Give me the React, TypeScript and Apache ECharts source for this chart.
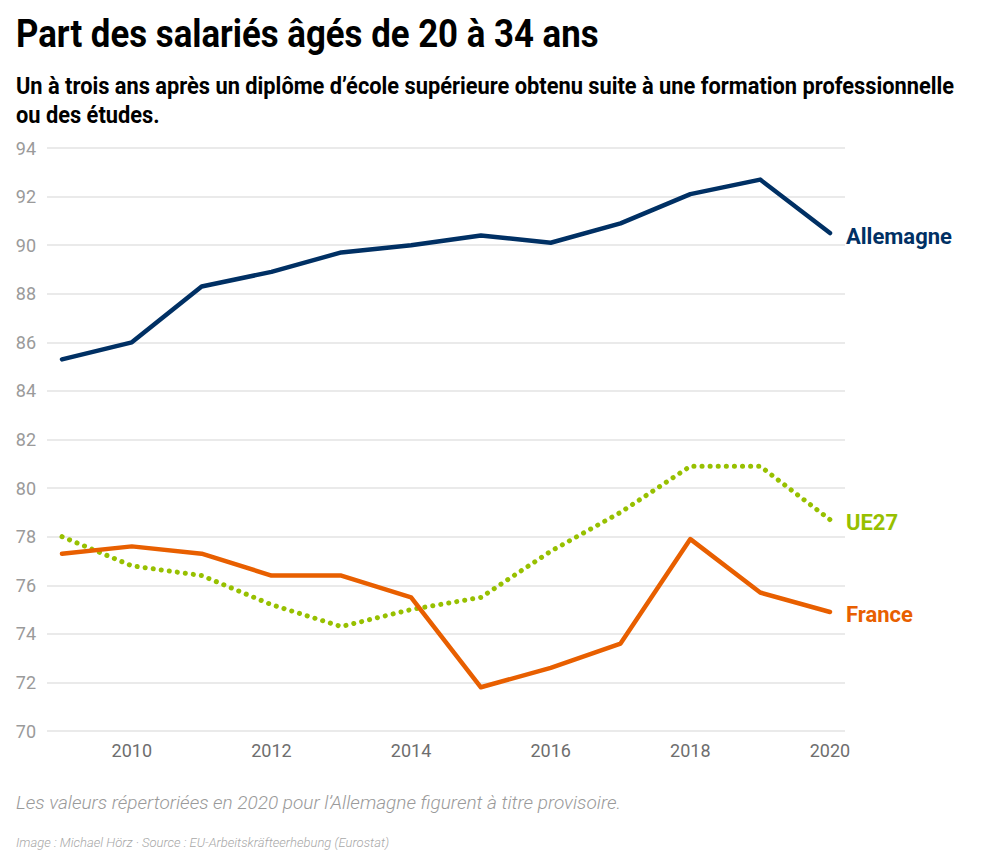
import React, { useEffect, useRef } from "react";
import * as echarts from "echarts";

const years = [2009, 2010, 2011, 2012, 2013, 2014, 2015, 2016, 2017, 2018, 2019, 2020];
const allemagne = [85.3, 86.0, 88.3, 88.9, 89.7, 90.0, 90.4, 90.1, 90.9, 92.1, 92.7, 90.5];
const france = [77.3, 77.6, 77.3, 76.4, 76.4, 75.5, 71.8, 72.6, 73.6, 77.9, 75.7, 74.9];
const ue27 = [78.0, 76.8, 76.4, 75.2, 74.3, 75.0, 75.5, 77.4, 79.0, 80.9, 80.9, 78.7];
const xTickLabels = [2010, 2012, 2014, 2016, 2018, 2020];

const TITLE = "Part des salariés âgés de 20 à 34 ans";
const SUBTITLE_1 =
  "Un à trois ans après un diplôme d’école supérieure obtenu suite à une formation professionnelle";
const SUBTITLE_2 = "ou des études.";
const NOTE = "Les valeurs répertoriées en 2020 pour l’Allemagne figurent à titre provisoire.";
const SOURCE = "Image : Michael Hörz · Source : EU-Arbeitskräfteerhebung (Eurostat)";

const FONT = "Roboto, 'Noto Sans', sans-serif";

export default function App() {
  const ref = useRef<HTMLDivElement>(null);
  useEffect(() => {
    document.body.style.margin = "0";
    const chart = echarts.init(ref.current!, null, { renderer: "svg" });
    const mk = (name: string, vals: number[], color: string, dotted: boolean) => ({
      name,
      type: "line",
      data: years.map((y, i) => [y, vals[i]]),
      symbol: "none",
      lineStyle: dotted
        ? { color, width: 5, type: [0.1, 8], cap: "round" }
        : { color, width: 4.5, cap: "round", join: "round" },
      endLabel: {
        show: true,
        formatter: name,
        color,
        fontFamily: FONT,
        fontWeight: "bold",
        fontSize: 22,
        distance: 16,
        offset: [0, 3],
      },
    });
    chart.setOption({
      animation: false,
      graphic: [
        {
          type: "text",
          x: 16,
          y: 34,
          scaleX: 0.916,
          style: { text: TITLE, fontFamily: FONT, fontWeight: "bold", fontSize: 38, fill: "#000", verticalAlign: "middle" },
        },
        {
          type: "text",
          x: 16,
          y: 86,
          scaleX: 0.909,
          style: { text: SUBTITLE_1, fontFamily: FONT, fontWeight: "bold", fontSize: 24, fill: "#000", verticalAlign: "middle" },
        },
        {
          type: "text",
          x: 16,
          y: 115,
          scaleX: 0.909,
          style: { text: SUBTITLE_2, fontFamily: FONT, fontWeight: "bold", fontSize: 24, fill: "#000", verticalAlign: "middle" },
        },
      ],
      title: [
        {
          text: NOTE,
          left: 11,
          top: 788,
          textStyle: { fontFamily: FONT, fontStyle: "italic", fontWeight: 300, fontSize: 19, color: "#9a9a9a" },
        },
        {
          text: SOURCE,
          left: 11,
          top: 831,
          textStyle: { fontFamily: FONT, fontStyle: "italic", fontWeight: 300, fontSize: 13, color: "#a8a8a8" },
        },
      ],
      grid: { left: 47, right: 138, top: 148, bottom: 130 },
      xAxis: {
        type: "value",
        min: 2008.785,
        max: 2020.215,
        splitLine: { show: false },
        axisLine: { show: false },
        axisTick: { show: false },
        axisLabel: {
          customValues: xTickLabels,
          color: "#6e6e6e",
          fontFamily: FONT,
          fontSize: 18,
          margin: 10,
          formatter: (v: number) => String(v),
        },
      },
      yAxis: {
        type: "value",
        min: 70,
        max: 94,
        interval: 2,
        axisLine: { show: false },
        axisTick: { show: false },
        splitLine: { lineStyle: { color: "#e3e3e3", width: 1.5 } },
        axisLabel: { color: "#9a9a9a", fontFamily: FONT, fontSize: 18, margin: 11 },
      },
      series: [
        mk("UE27", ue27, "#97c000", true),
        mk("France", france, "#e85f00", false),
        mk("Allemagne", allemagne, "#003064", false),
      ],
    });
    return () => chart.dispose();
  }, []);
  return <div ref={ref} style={{ width: 983, height: 861 }} />;
}
